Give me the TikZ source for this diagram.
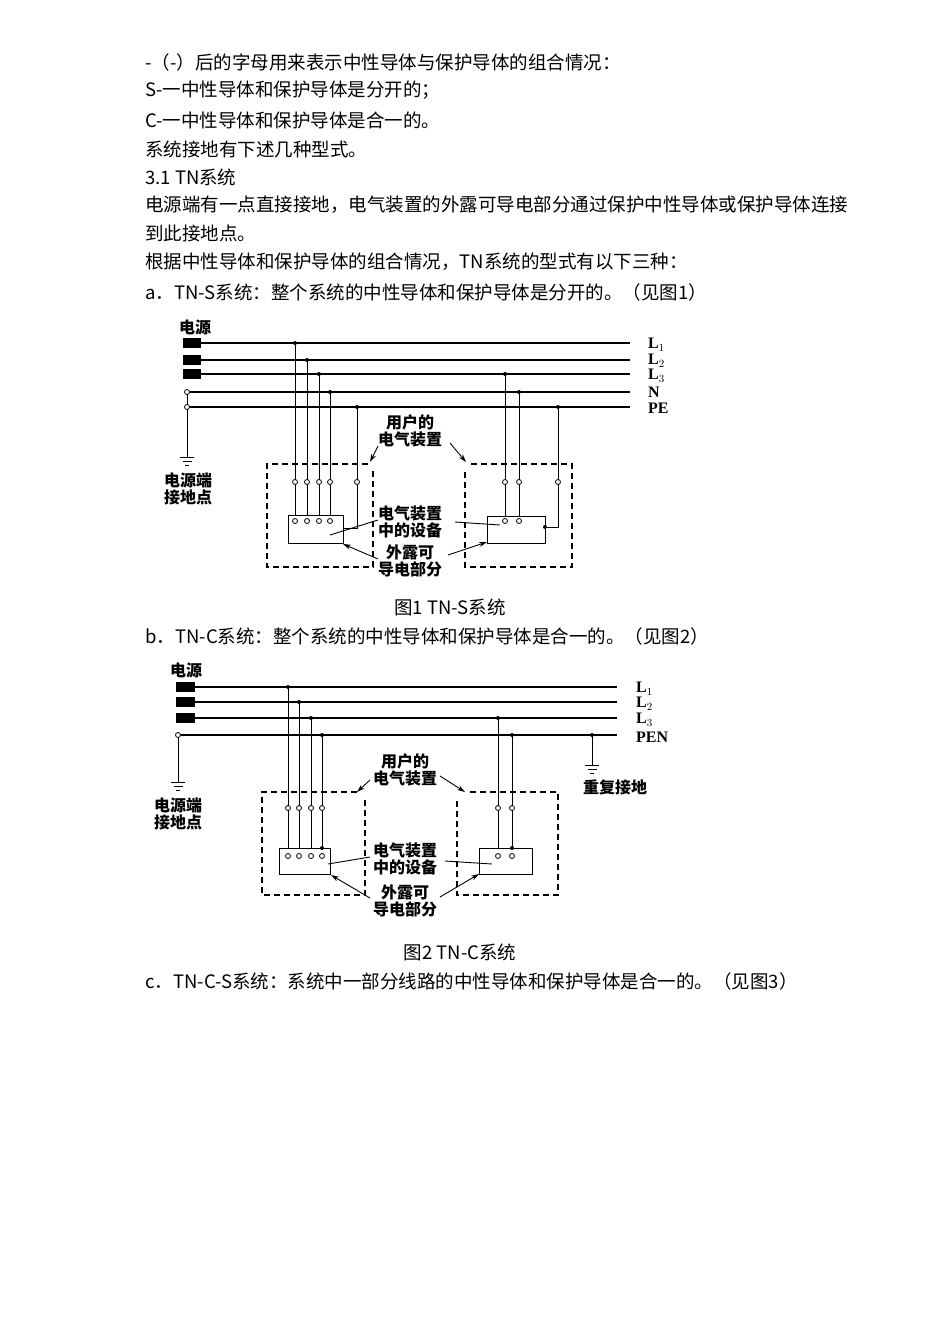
\documentclass[tikz,border=0pt]{standalone}
\usepackage{fontspec}
\setmainfont{Noto Sans CJK SC}
\newfontfamily\lbl{Liberation Serif}
\usetikzlibrary{arrows.meta}
\begin{document}
\begin{tikzpicture}[x=1pt,y=-1pt,
 txt/.style={anchor=west,inner sep=0pt,font=\fontsize{18.5}{18.5}\selectfont},
 dl/.style={inner sep=0pt,font=\fontsize{16}{17}\selectfont\bfseries,align=center},
 wl/.style={anchor=west,inner sep=0pt,font=\lbl\fontsize{16}{16}\selectfont\bfseries},
 bus/.style={line width=1.1pt},
 wire/.style={line width=0.9pt},
 dbox/.style={dashed,line width=1.1pt,dash pattern=on 6pt off 4pt},
 jd/.style={circle,fill,inner sep=0pt,minimum size=4pt},
 oc/.style={circle,draw,fill=white,inner sep=0pt,minimum size=5pt,line width=0.8pt},
 arr/.style={line width=0.9pt,-{Stealth[length=8pt,width=5pt]}},
 gnd/.style={line width=0.9pt}]
\useasboundingbox (0,0) rectangle (950,1344);
\fill[white] (0,0) rectangle (950,1344);
% text
\node[txt] (t1) at (145,62) {-（-）后的字母用来表示中性导体与保护导体的组合情况：};
\node[txt] (t2) at (145,90) {S-一中性导体和保护导体是分开的；};
\node[txt] (t3) at (145,120) {C-一中性导体和保护导体是合一的。};
\node[txt] (t4) at (145,149) {系统接地有下述几种型式。};
\node[txt] (t5) at (145,177) {3.1 TN系统};
\node[txt] (t6) at (145,205) {电源端有一点直接接地，电气装置的外露可导电部分通过保护中性导体或保护导体连接};
\node[txt] (t7) at (145,233) {到此接地点。};
\node[txt] (t8) at (145,262) {根据中性导体和保护导体的组合情况，TN系统的型式有以下三种：};
\node[txt] (t9) at (145,292) {a．TN-S系统：整个系统的中性导体和保护导体是分开的。（见图1）};
\node[txt,anchor=center] (c1) at (450,607) {图1 TN-S系统};
\node[txt] (t10) at (145,636) {b．TN-C系统：整个系统的中性导体和保护导体是合一的。（见图2）};
\node[txt,anchor=center] (c2) at (460,952) {图2 TN-C系统};
\node[txt] (t11) at (145,981) {c．TN-C-S系统：系统中一部分线路的中性导体和保护导体是合一的。（见图3）};

% ===== Figure 1 =====
\foreach \n/\y in {a/343,b/360,c/374,n/392,p/407}{
  \coordinate (f1\n s) at (187,\y); \coordinate (f1\n e) at (630,\y);
  \draw[bus] (f1\n s) -- (f1\n e);}
\foreach \y in {343,360,374}{\fill (183,\y-5) rectangle (201,\y+5);}
\node[wl] (l1) at (648,345) {L$_1$};
\node[wl] (l2) at (648,361) {L$_2$};
\node[wl] (l3) at (648,376) {L$_3$};
\node[wl] (ln) at (648,392) {N};
\node[wl] (lp) at (648,408) {PE};
\node[dl] (src1) at (195,327) {电源};
\coordinate (g1) at (187,457);
\draw[wire] (187,392) -- (g1);
\draw[gnd] (180,457)--(194,457) (182.5,461)--(191.5,461) (185,465)--(189,465);
\node[dl] (gl1) at (188,489) {电源端\\接地点};
\node[oc] at (187,392) {}; \node[oc] at (187,407) {};
% dashed boxes
\draw[dbox] (368,464) -- (267,464) -- (267,567) -- (373,567) -- (373,470);
\draw[dbox] (471,464) -- (572,464) -- (572,567) -- (465,567) -- (465,470);
% equipment boxes
\draw[wire] (288,515) rectangle (343,543);
\draw[wire] (487,516) rectangle (545,543);
\foreach \x/\y in {295/343,307/360,319/374,330/392}{
  \draw[wire] (\x,\y) -- (\x,516); \node[jd] at (\x,\y) {};
  \node[oc] at (\x,482) {}; \node[oc] at (\x,521) {};}
\draw[wire] (357,407) -- (357,528) -- (343,528); \node[jd] at (357,407) {}; \node[oc] at (357,482) {};
\foreach \x/\y in {505/374,519/392}{
  \draw[wire] (\x,\y) -- (\x,516); \node[jd] at (\x,\y) {};
  \node[oc] at (\x,482) {}; \node[oc] at (\x,521) {};}
\draw[wire] (558,407) -- (558,527) -- (545,527); \node[jd] at (558,407) {}; \node[oc] at (558,482) {}; \node[jd] at (545,527) {};
% labels
\node[dl] (u1) at (410,431) {用户的\\电气装置};
\draw[arr] (378,446) -- (370,462);
\draw[arr] (450,443) -- (466,462);
\node[dl] (e1) at (410,522) {电气装置\\中的设备};
\draw[wire] (378,520) -- (330,535);
\draw[wire] (455,522) -- (500,525);
\node[dl] (x1) at (410,561) {外露可\\导电部分};
\draw[arr] (378,559) -- (343,544);
\draw[arr] (448,555) -- (487,542);

% ===== Figure 2 =====
\foreach \n/\y in {a/687,b/702,c/718,p/735}{
  \draw[bus] (178,\y) -- (617,\y);}
\foreach \y in {687,702,718}{\fill (176,\y-5) rectangle (195,\y+5);}
\node[wl] (m1) at (636,689) {L$_1$};
\node[wl] (m2) at (636,704) {L$_2$};
\node[wl] (m3) at (636,720) {L$_3$};
\node[wl] (mp) at (636,737) {PEN};
\node[dl] (src2) at (186,670) {电源};
\draw[wire] (178,735) -- (178,782);
\draw[gnd] (171,782)--(185,782) (173.5,786)--(182.5,786) (176,790)--(180,790);
\node[oc] at (178,735) {};
\node[dl] (gl2) at (178,814) {电源端\\接地点};
\draw[wire] (592,735) -- (592,765); \node[jd] at (592,735) {};
\draw[gnd] (585,765)--(599,765) (587.5,769)--(596.5,769) (590,773)--(594,773);
\node[dl] (rg) at (615,787) {重复接地};
\draw[dbox] (357,792) -- (262,792) -- (262,895) -- (365,895) -- (365,798);
\draw[dbox] (470,792) -- (558,792) -- (558,895) -- (457,895) -- (457,800);
\draw[wire] (279,848) rectangle (330,874);
\draw[wire] (479,848) rectangle (532,874);
\foreach \x/\y in {288/687,299/702,311/718}{
  \draw[wire] (\x,\y) -- (\x,848); \node[jd] at (\x,\y) {};
  \node[oc] at (\x,808) {}; \node[oc] at (\x,856) {};}
\draw[wire] (322,735) -- (322,848); \node[jd] at (322,735) {}; \node[oc] at (322,808) {}; \node[jd] at (322,848) {}; \node[oc] at (322,856) {};
\draw[wire] (498,718) -- (498,848); \node[jd] at (498,718) {}; \node[oc] at (498,808) {}; \node[oc] at (498,856) {};
\draw[wire] (512,735) -- (512,848); \node[jd] at (512,735) {}; \node[oc] at (512,808) {}; \node[jd] at (512,848) {}; \node[oc] at (512,856) {};
\node[dl] (u2) at (405,770) {用户的\\电气装置};
\draw[arr] (370,780) -- (357,792);
\draw[arr] (440,776) -- (465,792);
\node[dl] (e2) at (405,859) {电气装置\\中的设备};
\draw[wire] (370,857) -- (328,864);
\draw[wire] (445,861) -- (492,864);
\node[dl] (x2) at (405,901) {外露可\\导电部分};
\draw[arr] (370,898) -- (331,875);
\draw[arr] (440,897) -- (479,874);
\end{tikzpicture}
\end{document}
